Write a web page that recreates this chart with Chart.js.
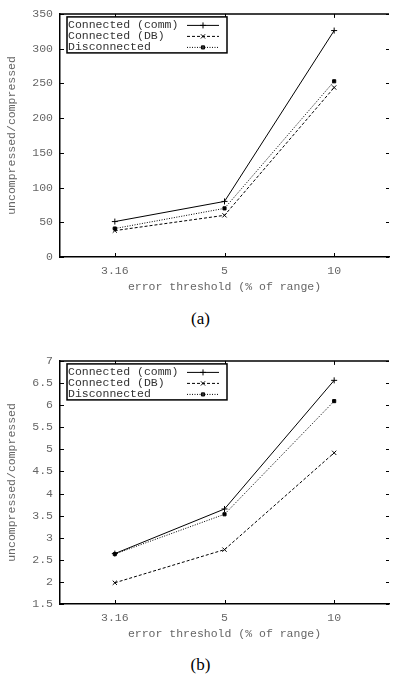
<!DOCTYPE html>
<html>
<head>
<meta charset="utf-8">
<script src="https://cdn.jsdelivr.net/npm/chart.js@4"></script>
<style>
  body { margin: 0; width: 393px; height: 677px; overflow: hidden; background: #fff; position: relative; }
  canvas { position: absolute; left: 0; }
  #chartA { top: 0; }
  #chartB { top: 347px; }
  .caption { position: absolute; width: 393px; left: 4px; text-align: center; font-family: "Liberation Serif", "DejaVu Serif", serif; font-size: 17px; color: #000; }
</style>
</head>
<body>
<canvas id="chartA" width="393" height="300"></canvas>
<div class="caption" style="top: 309px;">(a)</div>
<canvas id="chartB" width="393" height="300"></canvas>
<div class="caption" style="top: 655px;">(b)</div>
<script>
var thresholds = ['3.16', '5', '10'];
var seriesNames = ['Connected (comm)', 'Connected (DB)', 'Disconnected'];

var commA = [51, 80, 326];
var dbA = [38, 60, 244];
var discA = [41, 70, 253];

var commB = [2.64, 3.65, 6.56];
var dbB = [1.98, 2.73, 4.92];
var discB = [2.63, 3.53, 6.09];

var monoFont = '"Liberation Mono", "DejaVu Sans Mono", monospace';

// gnuplot look: inward mirrored ticks, top border, legend box with sample on the right
var framePlugin = {
  id: 'frame',
  afterDraw: function(chart) {
    var ctx = chart.ctx;
    var area = chart.chartArea;
    var xs = chart.scales.x;
    var ys = chart.scales.y;
    ctx.save();
    ctx.strokeStyle = '#000';
    ctx.lineWidth = 1.5;
    ctx.beginPath();
    ctx.moveTo(area.left, area.top);
    ctx.lineTo(area.right, area.top);
    ctx.stroke();

    ctx.lineWidth = 1;
    ctx.beginPath();
    ys.ticks.forEach(function(t, i) {
      var y = Math.round(ys.getPixelForTick(i)) + 0.5;
      ctx.moveTo(area.left, y);
      ctx.lineTo(area.left + 4, y);
      ctx.moveTo(area.right, y);
      ctx.lineTo(area.right - 3, y);
    });
    xs.ticks.forEach(function(t, i) {
      var x = Math.round(xs.getPixelForTick(i)) + 0.5;
      ctx.moveTo(x, area.bottom);
      ctx.lineTo(x, area.bottom - 4);
      ctx.moveTo(x, area.top);
      ctx.lineTo(x, area.top + 4);
    });
    ctx.stroke();

    // legend box
    var bx = area.left + 7, by = area.top + 3, bw = 160, bh = 36;
    ctx.fillStyle = '#fff';
    ctx.fillRect(bx, by, bw, bh);
    ctx.lineWidth = 1.5;
    ctx.strokeRect(bx, by, bw, bh);
    ctx.font = '11.5px ' + monoFont;
    ctx.textBaseline = 'middle';
    ctx.textAlign = 'left';
    chart.data.datasets.forEach(function(ds, i) {
      var ry = by + 8 + i * 11;
      ctx.fillStyle = '#333';
      ctx.fillText(ds.label, bx + 1, ry);
      ctx.strokeStyle = '#000';
      ctx.lineWidth = 1;
      ctx.setLineDash(ds.borderDash || []);
      ctx.beginPath();
      ctx.moveTo(bx + 120, ry + 0.5);
      ctx.lineTo(bx + 152, ry + 0.5);
      ctx.stroke();
      ctx.setLineDash([]);
      Chart.helpers.drawPoint(ctx, {
        pointStyle: ds.pointStyle,
        radius: ds.pointRadius,
        borderWidth: 1
      }, bx + 136, ry + 0.5);
    });
    ctx.restore();
  }
};

function makeChart(id, comm, db, disc, yMin, yMax, yStep) {
  var values = [comm, db, disc];
  var dashes = [[], [3, 2], [1, 1.5]];
  var styles = ['cross', 'crossRot', 'rect'];
  var radii = [3, 3, 2.2];
  var datasets = values.map(function(v, i) {
    return {
      label: seriesNames[i],
      data: v,
      borderColor: '#000',
      backgroundColor: '#000',
      borderWidth: 1,
      borderDash: dashes[i],
      pointStyle: styles[i],
      pointRadius: radii[i],
      pointBorderWidth: 1,
      pointHoverRadius: radii[i],
      tension: 0,
      fill: false
    };
  });

  return new Chart(document.getElementById(id), {
    type: 'line',
    data: { labels: thresholds, datasets: datasets },
    plugins: [framePlugin],
    options: {
      responsive: false,
      animation: false,
      events: [],
      layout: { padding: { top: 12, right: 0, left: 0, bottom: 0 } },
      plugins: { legend: { display: false }, tooltip: { enabled: false } },
      scales: {
        x: {
          type: 'category',
          offset: true,
          grid: { display: false, drawTicks: false },
          border: { display: true, color: '#000', width: 1.5 },
          ticks: { color: '#666', font: { family: monoFont, size: 11.5 }, padding: 7, maxRotation: 0 },
          title: { display: true, text: 'error threshold (% of range)', color: '#666', font: { family: monoFont, size: 11.5 }, padding: { top: 0, bottom: 6 } },
          afterFit: function(scale) { scale.height = 43; }
        },
        y: {
          min: yMin,
          max: yMax,
          grid: { display: false, drawTicks: false },
          border: { display: true, color: '#000', width: 1.5 },
          ticks: {
            stepSize: yStep,
            color: '#666',
            font: { family: monoFont, size: 11.5 },
            padding: 7,
            callback: function(value) { return String(Math.round(value * 10) / 10); }
          },
          title: { display: true, text: 'uncompressed/compressed', color: '#666', font: { family: monoFont, size: 11.5 }, padding: { top: 5, bottom: 0 } },
          afterFit: function(scale) { scale.width = 60; }
        }
      }
    }
  });
}

makeChart('chartA', commA, dbA, discA, 0, 350, 50);
makeChart('chartB', commB, dbB, discB, 1.5, 7, 0.5);
</script>
</body>
</html>
